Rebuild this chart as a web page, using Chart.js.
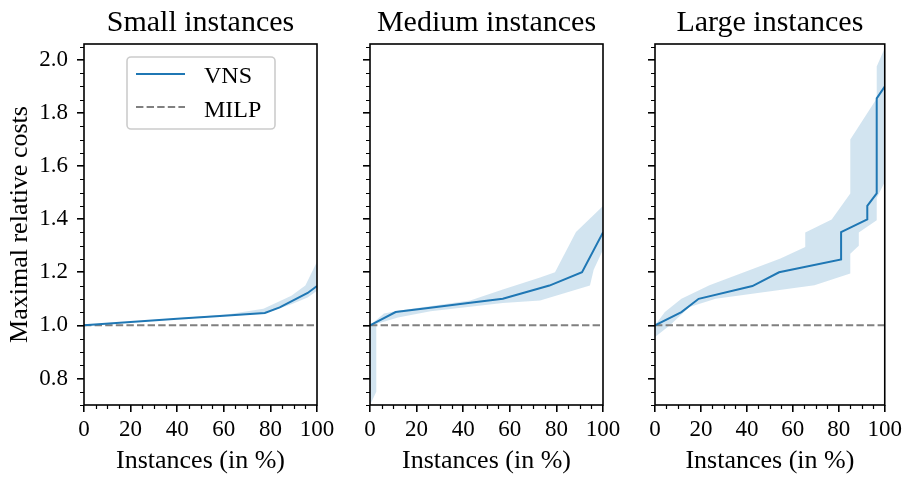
<!DOCTYPE html>
<html><head><meta charset="utf-8">
<script src="https://cdn.jsdelivr.net/npm/chart.js@4/dist/chart.umd.min.js"></script>
<style>
html,body{margin:0;padding:0;background:#fff;overflow:hidden;}
#wrap{position:relative;width:906px;height:477px;background:#fff;}
canvas{position:absolute;left:0;top:0;}
</style></head><body>
<div id="wrap">
<canvas id="c1" width="906" height="477"></canvas>
<canvas id="c2" width="906" height="477"></canvas>
<canvas id="c3" width="906" height="477"></canvas>
</div>
<script>
// ---- data ----
const panelTitles = ['Small instances', 'Medium instances', 'Large instances'];
const seriesLabels = ['VNS', 'MILP'];
const xLabel = 'Instances (in %)';
const yLabel = 'Maximal relative costs';
const xTickValues = [0, 20, 40, 60, 80, 100];
const xTickLabels = ['0', '20', '40', '60', '80', '100'];
const yTickValues = [0.8, 1.0, 1.2, 1.4, 1.6, 1.8, 2.0];
const yTickLabels = ['0.8', '1.0', '1.2', '1.4', '1.6', '1.8', '2.0'];

const milpX = [0, 100];
const milpY = [1.0, 1.0];

// Small instances
const smallX = [0, 20, 40, 60, 77.6, 84, 90, 96, 100];
const smallVNS = [1.0, 1.013, 1.025, 1.036, 1.047, 1.068, 1.095, 1.122, 1.148];
const smallUpperX = [0, 40, 62, 77, 89, 95, 100];
const smallUpperY = [1.0, 1.027, 1.042, 1.063, 1.112, 1.15, 1.24];
const smallLowerX = [0, 40, 77, 89, 96, 100];
const smallLowerY = [1.0, 1.024, 1.044, 1.08, 1.105, 1.13];

// Medium instances
const mediumX = [0, 11, 25, 43, 57, 77, 91, 100];
const mediumVNS = [1.0, 1.05, 1.065, 1.085, 1.10, 1.15, 1.20, 1.35];
const mediumUpperX = [0, 6, 12, 43, 57, 73, 79.4, 88.4, 100];
const mediumUpperY = [1.0, 1.045, 1.055, 1.094, 1.135, 1.18, 1.20, 1.352, 1.45];
const mediumLowerX = [0, 2.7, 2.7, 12, 26, 57, 73, 94.4, 96, 100];
const mediumLowerY = [0.70, 0.75, 1.005, 1.03, 1.053, 1.084, 1.094, 1.15, 1.21, 1.285];

// Large instances
const largeX = [0, 11.5, 19, 42.4, 54, 81, 81, 92.4, 92.4, 96.5, 96.5, 100];
const largeVNS = [1.0, 1.05, 1.10, 1.148, 1.20, 1.248, 1.351, 1.399, 1.45, 1.497, 1.855, 1.90];
const largeUpperX = [0, 4.3, 11.5, 23.7, 54.6, 65.4, 65.4, 76.9, 85, 85, 96.5, 96.5, 100];
const largeUpperY = [1.0, 1.05, 1.10, 1.151, 1.252, 1.295, 1.35, 1.399, 1.497, 1.70, 1.855, 1.975, 2.045];
const largeLowerX = [0, 6.5, 15, 26.4, 69.4, 85, 85, 88.7, 88.7, 96.5, 96.5, 100];
const largeLowerY = [0.956, 1.0, 1.069, 1.10, 1.151, 1.195, 1.27, 1.30, 1.35, 1.396, 1.48, 1.54];

// ---- style ----
const FONT = "'Liberation Serif', 'Times New Roman', serif";
const BLUE = '#1f77b4';
const GRAY = '#808080';
const BAND = 'rgba(31,119,180,0.2)';

function zip(xs, ys) { return xs.map((x, i) => ({x: x, y: ys[i]})); }

function decor(p) {
  return {
    id: 'decor' + p.idx,
    afterDraw(chart) {
      const ctx = chart.ctx;
      const a = chart.chartArea;
      const xs = chart.scales.x, ys = chart.scales.y;
      ctx.save();
      // minor ticks
      ctx.strokeStyle = '#000';
      ctx.lineWidth = 1.2;
      ctx.beginPath();
      for (let v = 5; v < 100; v += 5) {
        if (v % 20 === 0) continue;
        const px = Math.round(xs.getPixelForValue(v)) + 0.5;
        ctx.moveTo(px, a.bottom); ctx.lineTo(px, a.bottom + 4);
      }
      for (let k = 14; k <= 41; k++) {
        if (k % 4 === 0) continue;
        const v = k * 0.05;
        if (v > ys.max + 1e-9) continue;
        const py = Math.round(ys.getPixelForValue(v)) + 0.5;
        ctx.moveTo(a.left, py); ctx.lineTo(a.left - 4, py);
      }
      ctx.stroke();
      // frame
      ctx.lineWidth = 1.6;
      ctx.strokeRect(a.left, a.top, a.right - a.left, a.bottom - a.top);
      // title
      ctx.fillStyle = '#000';
      ctx.font = '30px ' + FONT;
      ctx.textAlign = 'center';
      ctx.textBaseline = 'alphabetic';
      ctx.fillText(panelTitles[p.idx], (a.left + a.right) / 2, 31);
      // legend
      if (p.legend) {
        const bx = a.left + 43, by = a.top + 13, bw = 148, bh = 72;
        ctx.beginPath();
        ctx.roundRect(bx, by, bw, bh, 4);
        ctx.fillStyle = 'rgba(255,255,255,0.8)';
        ctx.fill();
        ctx.strokeStyle = '#cccccc';
        ctx.lineWidth = 1.6;
        ctx.stroke();
        ctx.lineWidth = 2;
        ctx.strokeStyle = BLUE;
        ctx.beginPath(); ctx.moveTo(bx + 9, by + 17); ctx.lineTo(bx + 58, by + 17); ctx.stroke();
        ctx.strokeStyle = GRAY;
        ctx.setLineDash([7.4, 3.2]);
        ctx.beginPath(); ctx.moveTo(bx + 9, by + 50); ctx.lineTo(bx + 58, by + 50); ctx.stroke();
        ctx.setLineDash([]);
        ctx.fillStyle = '#000';
        ctx.font = '24px ' + FONT;
        ctx.textAlign = 'left';
        ctx.fillText(seriesLabels[0], bx + 77, by + 26);
        ctx.fillText(seriesLabels[1], bx + 77, by + 59.5);
      }
      ctx.restore();
    }
  };
}

function makePanel(id, p) {
  new Chart(document.getElementById(id), {
    type: 'line',
    data: {
      datasets: [
        { label: seriesLabels[0], data: zip(p.x, p.vns), borderColor: BLUE, borderWidth: 2,
          pointRadius: 0, fill: false, tension: 0 },
        { label: seriesLabels[1], data: zip(milpX, milpY), borderColor: GRAY, borderWidth: 2,
          borderDash: [7.4, 3.2], pointRadius: 0, fill: false, tension: 0 },
        { label: 'band', data: zip(p.upX, p.upY).concat(zip(p.loX, p.loY).reverse()),
          borderColor: 'rgba(0,0,0,0)', borderWidth: 0, backgroundColor: BAND,
          pointRadius: 0, fill: 'shape', tension: 0 }
      ]
    },
    options: {
      responsive: false, animation: false, events: [],
      layout: { padding: { left: p.padL, right: p.padR, top: 44, bottom: 0 } },
      plugins: { legend: { display: false }, tooltip: { enabled: false }, title: { display: false } },
      scales: {
        x: {
          type: 'linear', min: 0, max: 100,
          afterBuildTicks: s => { s.ticks = xTickValues.map(v => ({value: v})); },
          afterFit: s => { s.height = 72; },
          border: { display: false },
          grid: { drawOnChartArea: false, drawTicks: true, tickLength: 7, color: '#000', lineWidth: 1.6 },
          ticks: { font: { family: FONT, size: 23 }, color: '#000', padding: 4, maxRotation: 0,
                   autoSkip: false, callback: (v, i) => xTickLabels[i] },
          title: { display: true, text: xLabel, font: { family: FONT, size: 26 }, color: '#000',
                   padding: { top: 0, bottom: 0 } }
        },
        y: {
          type: 'linear', min: 0.7, max: 2.06,
          afterBuildTicks: s => { s.ticks = yTickValues.map(v => ({value: v})); },
          afterFit: s => { s.width = p.yW; },
          border: { display: false },
          grid: { drawOnChartArea: false, drawTicks: true, tickLength: 7, color: '#000', lineWidth: 1.6 },
          ticks: { display: p.showY, font: { family: FONT, size: 23 }, color: '#000', padding: 9,
                   autoSkip: false, callback: (v, i) => yTickLabels[i] },
          title: { display: p.showY, text: yLabel, font: { family: FONT, size: 26 }, color: '#000',
                   padding: { top: 5, bottom: 0 } }
        }
      }
    },
    plugins: [decor(p)]
  });
}

makePanel('c1', { idx: 0, legend: true, showY: true, padL: 0, yW: 84, padR: 906 - 317,
  x: smallX, vns: smallVNS, upX: smallUpperX, upY: smallUpperY, loX: smallLowerX, loY: smallLowerY });
makePanel('c2', { idx: 1, legend: false, showY: false, padL: 360, yW: 10, padR: 906 - 603,
  x: mediumX, vns: mediumVNS, upX: mediumUpperX, upY: mediumUpperY, loX: mediumLowerX, loY: mediumLowerY });
makePanel('c3', { idx: 2, legend: false, showY: false, padL: 645, yW: 10, padR: 906 - 887,
  x: largeX, vns: largeVNS, upX: largeUpperX, upY: largeUpperY, loX: largeLowerX, loY: largeLowerY });
</script>
</body></html>
